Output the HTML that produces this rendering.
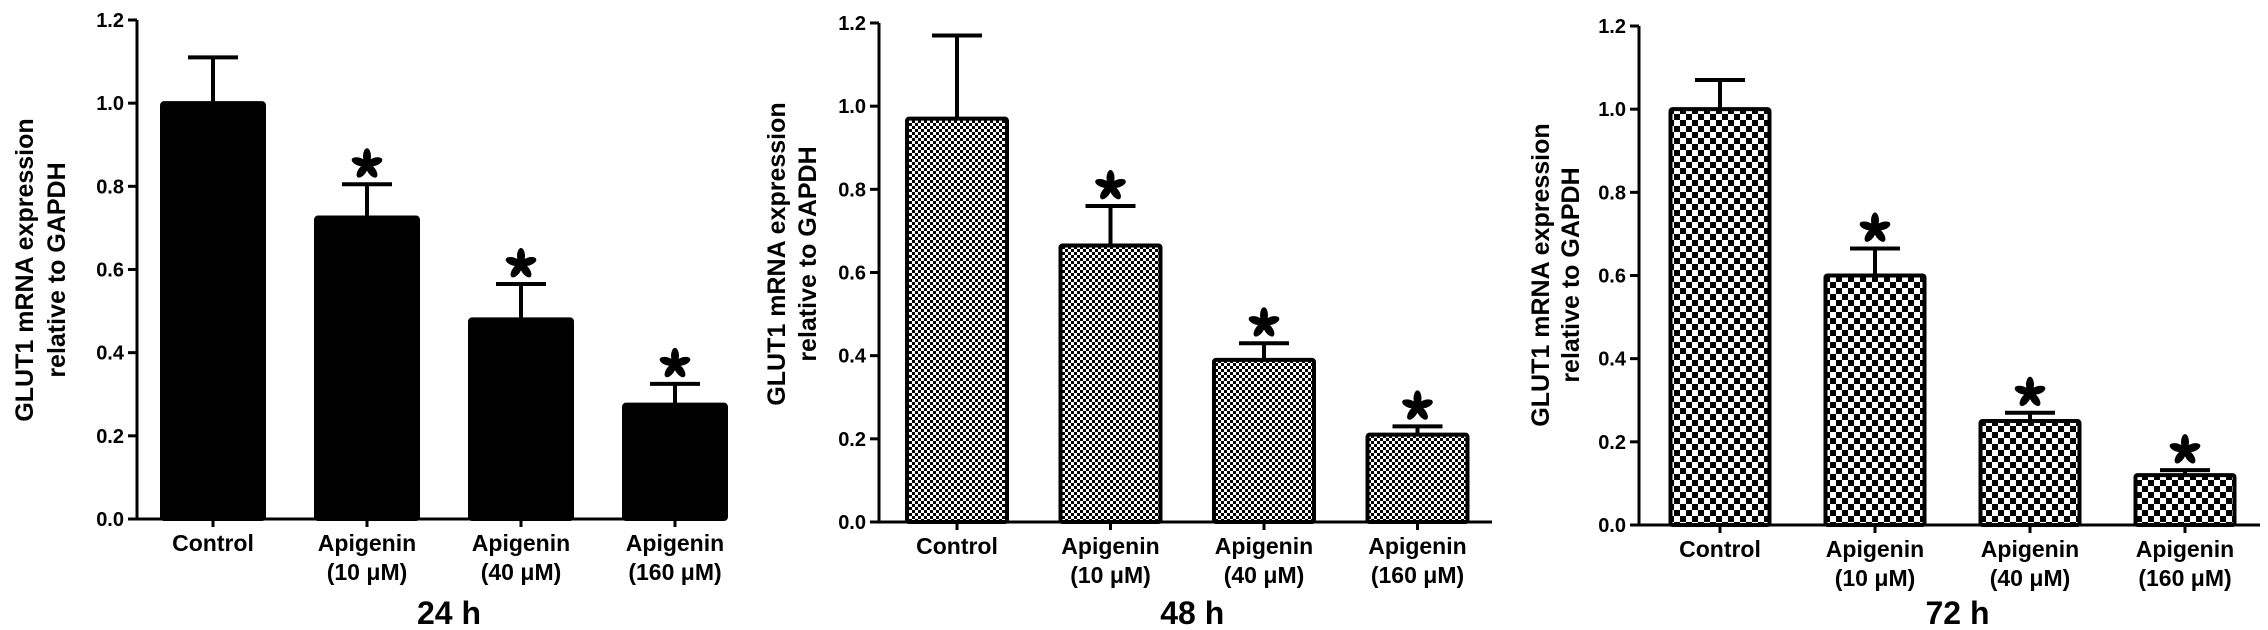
<!DOCTYPE html>
<html><head><meta charset="utf-8"><style>
html,body{margin:0;padding:0;background:#fff;}
svg{display:block;}
text{font-family:"Liberation Sans",Arial,sans-serif;font-weight:bold;fill:#000;}
</style></head><body>
<svg id="chart" width="2268" height="630" viewBox="0 0 2268 630" xmlns="http://www.w3.org/2000/svg">
<defs>
<pattern id="fine" width="6" height="6" patternUnits="userSpaceOnUse">
<rect width="6" height="6" fill="#fff"/><rect width="3" height="3" fill="#000"/><rect x="3" y="3" width="3" height="3" fill="#000"/>
</pattern>
<pattern id="coarse" width="12" height="12" patternUnits="userSpaceOnUse">
<rect width="12" height="12" fill="#fff"/><rect width="6" height="6" fill="#000"/><rect x="6" y="6" width="6" height="6" fill="#000"/>
</pattern>
</defs>
</svg>
<script>
const categories = [["Control"], ["Apigenin", "(10 μM)"], ["Apigenin", "(40 μM)"], ["Apigenin", "(160 μM)"]];
const yTicks = [0, 0.2, 0.4, 0.6, 0.8, 1.0, 1.2];
const panelTitles = ["24 h", "48 h", "72 h"];
const means24 = [1.0, 0.725, 0.48, 0.275];
const errors24 = [0.11, 0.08, 0.085, 0.05];
const means48 = [0.97, 0.665, 0.39, 0.21];
const errors48 = [0.2, 0.095, 0.04, 0.02];
const means72 = [1.0, 0.6, 0.25, 0.12];
const errors72 = [0.07, 0.065, 0.02, 0.012];
const significant = [false, true, true, true];

const NS = "http://www.w3.org/2000/svg";
const svg = document.getElementById('chart');
function mk(tag, attrs, parent) {
  const e = document.createElementNS(NS, tag);
  for (const k in attrs) e.setAttribute(k, attrs[k]);
  (parent || svg).appendChild(e);
  return e;
}
const panels = [
  {means: means24, errors: errors24, axisX: 137, y0: 519, yTop: 20, c0: 213, step: 154, bw: 106, end: 722, fill: "#000", ylx: [24, 56], yly: 270, title: 0},
  {means: means48, errors: errors48, axisX: 879, y0: 522, yTop: 23, c0: 957, step: 153.5, bw: 104, end: 1492, fill: "url(#fine)", ylx: [776, 807], yly: 254, title: 1},
  {means: means72, errors: errors72, axisX: 1639, y0: 525, yTop: 26, c0: 1720, step: 155, bw: 103, end: 2260, fill: "url(#coarse)", ylx: [1540, 1570], yly: 275, title: 2}
];
panels.forEach((p, pi) => {
  const g = mk('g', {});
  
  
  const yScale = v => p.y0 - (v / 1.2) * (p.y0 - p.yTop);
  const xScale = i => p.c0 + i * p.step;
  p.means.forEach((m, i) => {
    const cx = xScale(i), top = yScale(m), cap = yScale(m + p.errors[i]);
    const eb = mk('line', {x1: cx, x2: cx, y1: top, y2: cap, stroke: '#000', 'stroke-width': 4}, g);
    
    
    const ec = mk('line', {x1: cx - 25, x2: cx + 25, y1: cap, y2: cap, stroke: '#000', 'stroke-width': 4}, g);
    
    
    const b = mk('rect', {x: cx - p.bw / 2 + 2, y: top, width: p.bw - 4, height: p.y0 - top, fill: p.fill, stroke: '#000', 'stroke-width': 4, rx: 2}, g);
    
    
    if (significant[i]) {
      const ag = mk('g', {transform: 'translate(' + cx + ',' + (cap - 20) + ')'}, g);
      
      
      for (let k = 0; k < 5; k++) {
        mk('ellipse', {cx: 0, cy: -8, rx: 4, ry: 8, fill: '#000', transform: 'rotate(' + (k * 72) + ')'}, ag);
      }
    }
    mk('line', {x1: cx, x2: cx, y1: p.y0, y2: p.y0 + 8, stroke: '#000', 'stroke-width': 3}, g);
    categories[i].forEach((line, li) => {
      const t = mk('text', {x: cx, y: p.y0 + 32 + li * 29, 'text-anchor': 'middle', 'font-size': 23}, g);
      t.textContent = line;
      
      
    });
  });
  const ya = mk('line', {x1: p.axisX, x2: p.axisX, y1: p.yTop, y2: p.y0 + 1.5, stroke: '#000', 'stroke-width': 3}, g);
  
  
  const xa = mk('line', {x1: p.axisX - 1.5, x2: p.end, y1: p.y0, y2: p.y0, stroke: '#000', 'stroke-width': 3}, g);
  
  
  yTicks.forEach(v => {
    const y = yScale(v);
    mk('line', {x1: p.axisX - 9, x2: p.axisX, y1: y, y2: y, stroke: '#000', 'stroke-width': 3}, g);
    const t = mk('text', {x: p.axisX - 13, y: y + 7, 'text-anchor': 'end', 'font-size': 20}, g);
    t.textContent = v.toFixed(1);
    
    
  });
  const yl = mk('text', {'text-anchor': 'middle', 'font-size': 25, transform: 'translate(' + p.ylx[0] + ',' + p.yly + ') rotate(-90)'}, g);
  
  
  const s1 = mk('tspan', {x: 0, y: 9}, yl); s1.textContent = 'GLUT1 mRNA expression';
  const s2 = mk('tspan', {x: 0, y: 9 + (p.ylx[1] - p.ylx[0])}, yl); s2.textContent = 'relative to GAPDH';
  const tt = mk('text', {x: (xScale(1) + xScale(2)) / 2 + 5, y: 624, 'text-anchor': 'middle', 'font-size': 32}, g);
  tt.textContent = panelTitles[pi];
  
  
});
</script>
</body></html>
